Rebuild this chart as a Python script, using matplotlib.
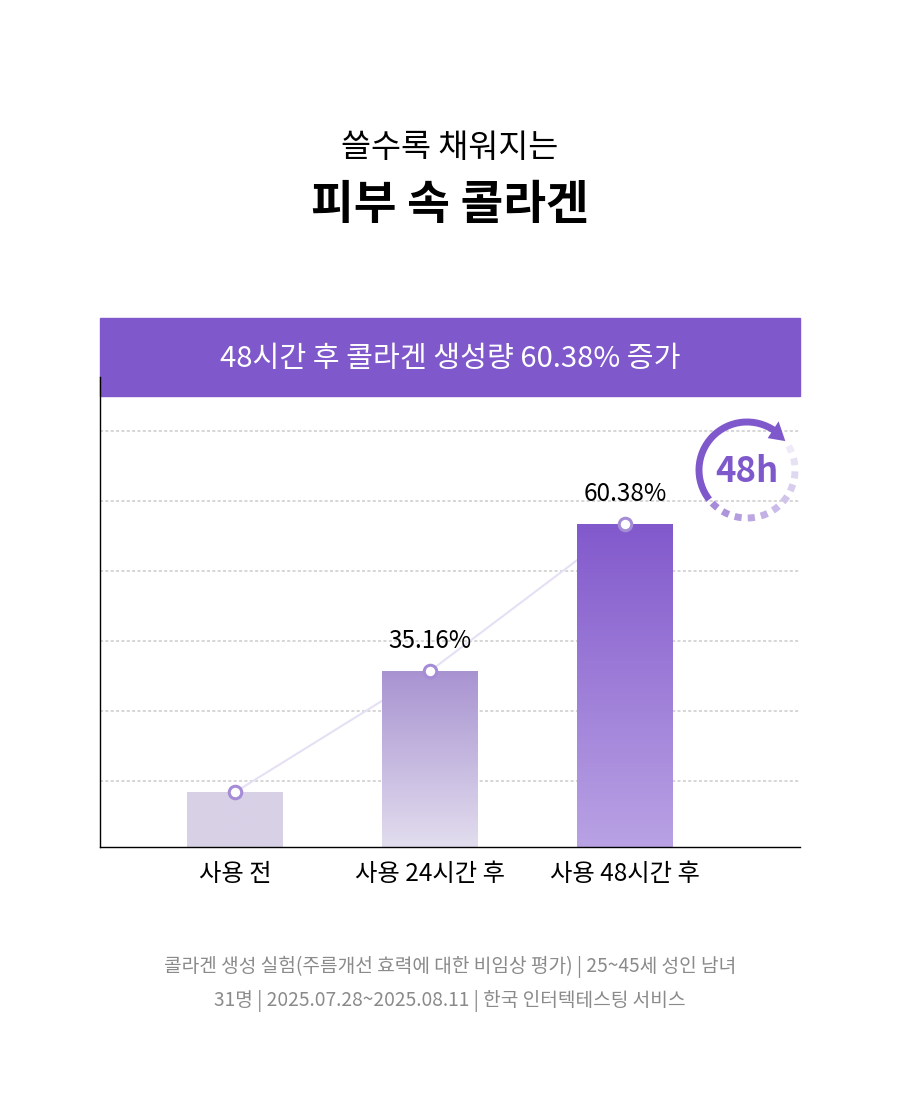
import numpy as np
import matplotlib.pyplot as plt
from matplotlib.patches import Rectangle, Arc, Polygon
from matplotlib.colors import LinearSegmentedColormap, to_rgb

plt.rcParams['font.family'] = ['Noto Sans CJK KR', 'DejaVu Sans']

# data (bar heights in grid units, one grid step = 10)
categories = ["사용 전", "사용 24시간 후", "사용 48시간 후"]
bar_heights = [8.4, 25.7, 46.7]
value_labels = [None, "35.16%", "60.38%"]
grid_levels = [10, 20, 30, 40, 50, 60]

top_colors = ["#d8d1e6", "#a893d1", "#8259cc"]
bottom_colors = ["#d8d1e6", "#e2ddee", "#b9a2e4"]
PURPLE = "#7f58cc"

W, H = 900, 1110
fig = plt.figure(figsize=(W / 100, H / 100), dpi=100)


def fx(px):
    return px / W


def fy(py):
    return 1 - py / H


# headline
fig.text(0.5, fy(148), "쓸수록 채워지는", ha='center', va='center', fontsize=23.5)
fig.text(0.5, fy(205), "피부 속 콜라겐", ha='center', va='center',
         fontsize=33.5, fontweight='bold')

# banner
fig.patches.append(Rectangle((fx(100), fy(396)), fx(700), 78 / H,
                             transform=fig.transFigure, color=PURPLE, zorder=-1))
fig.text(0.5, fy(359), "48시간 후 콜라겐 생성량 60.38% 증가", color='white',
         ha='center', va='center', fontsize=21)

# main axes
ymin, ymax = 0.57, 67.7
ax = fig.add_axes([fx(100), fy(847), fx(700), 470 / H])
ax.set_facecolor('none')
x = np.arange(len(categories))

bars = ax.bar(x, np.array(bar_heights) - ymin, bottom=ymin, width=0.49,
              color='none', zorder=2)
grad = np.linspace(0, 1, 256).reshape(-1, 1)
for b, c_top, c_bot in zip(bars, top_colors, bottom_colors):
    cmap = LinearSegmentedColormap.from_list('g', [c_bot, c_top])
    x0, y0 = b.get_x(), b.get_y()
    im = ax.imshow(grad, cmap=cmap, origin='lower', aspect='auto',
                   extent=[x0, x0 + b.get_width(), y0, y0 + b.get_height()],
                   zorder=2, interpolation='bicubic')
    im.set_clip_path(b)

ax.plot(x, bar_heights, color="#e5e0f4", lw=1.5, zorder=1)
ax.plot(x, bar_heights, 'o', ms=9, mfc='white', mec='#a58cd6', mew=2.2,
        zorder=4, clip_on=False)

for xi, h, lab in zip(x, bar_heights, value_labels):
    if lab:
        ax.annotate(lab, (xi, h), xytext=(0, 30), textcoords='offset pixels',
                    ha='center', va='center', fontsize=17.5)

ax.set_xlim(-0.692, 2.897)
ax.set_ylim(ymin, ymax)
ax.set_yticks(grid_levels)
ax.set_yticklabels([])
ax.yaxis.grid(True, color='#cccccc', lw=1.1, linestyle=(0, (2, 1.5)))
ax.set_axisbelow(True)
ax.set_xticks(x, categories, fontsize=17.5)
ax.tick_params(length=0)
ax.tick_params(axis='x', pad=10)
for s in ['top', 'right']:
    ax.spines[s].set_visible(False)
for s in ['left', 'bottom']:
    ax.spines[s].set_linewidth(1.0)
    ax.spines[s].set_color('black')

# 48h badge
bx = fig.add_axes([fx(687), fy(530), fx(120), 120 / H])
bx.set_xlim(-60, 60)
bx.set_ylim(-60, 60)
bx.set_aspect('equal')
bx.axis('off')
r = 48
bx.add_patch(Arc((0, 0), 2 * r, 2 * r, theta1=55, theta2=218, lw=5,
                 color=PURPLE, capstyle='butt'))
tt, tb = np.radians(37), np.radians(57)
arrow = [(r * np.cos(tt), r * np.sin(tt)),
         ((r + 10) * np.cos(tb), (r + 10) * np.sin(tb)),
         ((r - 10) * np.cos(tb), (r - 10) * np.sin(tb))]
bx.add_patch(Polygon(arrow, closed=True, color=PURPLE, lw=0))
starts = np.linspace(30, -128, 11)
c0, c1 = np.array(to_rgb('#eeeaf8')), np.array(to_rgb('#a68bd8'))
for i, s in enumerate(starts):
    col = c0 + (c1 - c0) * i / (len(starts) - 1)
    bx.add_patch(Arc((0, 0), 2 * r, 2 * r, theta1=s - 8.5, theta2=s, lw=5,
                     color=col, capstyle='butt'))
bx.text(0, -1, "48h", ha='center', va='center', fontsize=25,
        fontweight='bold', color=PURPLE)

# footer
fig.text(0.5, fy(967), "콜라겐 생성 실험(주름개선 효력에 대한 비임상 평가) | 25~45세 성인 남녀",
         ha='center', va='center', fontsize=13.8, color='#8a8a8a')
fig.text(0.5, fy(1001), "31명 | 2025.07.28~2025.08.11 | 한국 인터텍테스팅 서비스",
         ha='center', va='center', fontsize=13.8, color='#8a8a8a')

fig.savefig("out.png", dpi=100)
